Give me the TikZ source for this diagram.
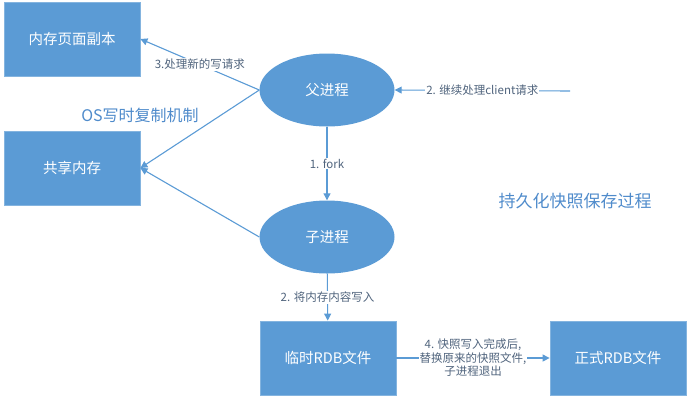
\documentclass[tikz,border=0pt]{standalone}
\usepackage{fontspec}
\setmainfont{Noto Sans CJK SC}
\usetikzlibrary{arrows.meta,shapes.geometric}
\definecolor{boxblue}{HTML}{5B9BD5}
\definecolor{notegray}{HTML}{50647D}
\definecolor{titleblue}{HTML}{4F8BCB}
\tikzset{
  block/.style={rectangle, fill=boxblue, draw=boxblue!75!white, line width=0.8pt,
    minimum width=136pt, minimum height=74pt, inner sep=0pt, text=white,
    font=\fontsize{14.5}{16}\selectfont},
  proc/.style={ellipse, fill=boxblue, minimum width=135pt, minimum height=73pt,
    inner sep=0pt, text=white, font=\fontsize{14.5}{16}\selectfont},
  flow/.style={draw=boxblue, line width=1.1pt, -{Triangle[length=7pt,width=7pt]}},
  note/.style={fill=white, text=notegray, inner sep=1pt, align=center,
    font=\fontsize{11.5}{13.5}\selectfont},
  heading/.style={text=titleblue, inner sep=0pt}
}
\begin{document}
\begin{tikzpicture}[x=1pt,y=-1pt]
            \useasboundingbox (0,0) rectangle (692,400);%

            % Drawing boxes
            \node [block] (copy) at (72,39) {内存页面副本};%
            \node [block] (shared) at (72,168) {共享内存};%
            \node [block] (tmprdb) at (328,358) {临时RDB文件};%
            \node [block] (finalrdb) at (618,358) {正式RDB文件};%

            % Drawing processes
            \node [proc] (parent) at (327,90) {父进程};%
            \node [proc] (child) at (327,237) {子进程};%

            % Free end of the client request
            \coordinate (client) at (570,91);%

            % Drawing arrows
            \draw [flow] (parent) -- node [note] {1. fork} (child);%
            \draw [flow] (client) -- node [note] {2. 继续处理client请求} (parent.east);%
            \draw [flow] (parent.west) -- node [note] {3.处理新的写请求} (copy.east);%
            \draw [flow] (parent.west) -- (shared.east);%
            \draw [flow] (child.west) -- (shared.east);%
            \draw [flow] (child) -- node [note] {2. 将内存内容写入} (tmprdb);%
            \draw [flow] (tmprdb) -- node [note] {4. 快照写入完成后,\\替换原来的快照文件,\\子进程退出} (finalrdb);%

            % Marking headings
            \node [heading, font=\fontsize{16}{18}\selectfont] (cow) at (140,115) {OS写时复制机制};%
            \node [heading, font=\fontsize{17}{19}\selectfont] (title) at (575,201) {持久化快照保存过程};%
\end{tikzpicture}
\end{document}
